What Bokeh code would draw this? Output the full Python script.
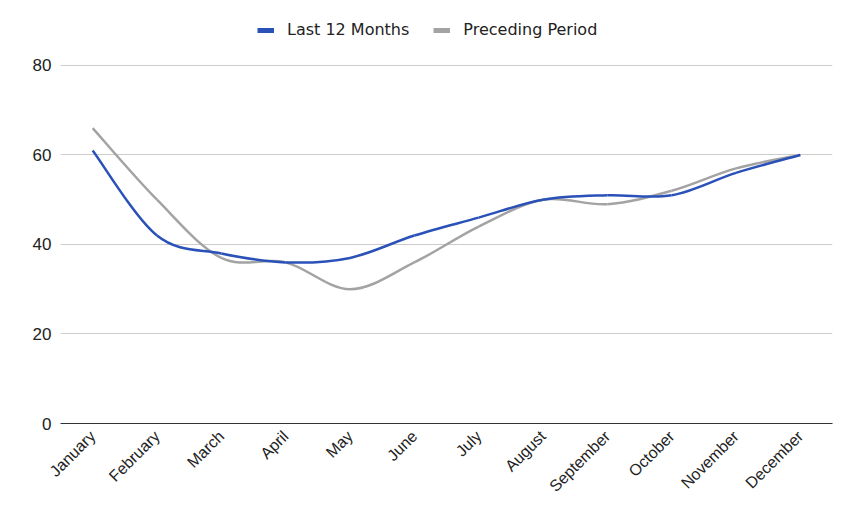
import math

from bokeh.embed import file_html
from bokeh.models import FixedTicker, Legend, LegendItem, Range1d
from bokeh.plotting import figure
from bokeh.resources import INLINE

months = ["January", "February", "March", "April", "May", "June", "July",
          "August", "September", "October", "November", "December"]
last_12 = [61, 42, 38, 36, 37, 42, 46, 50, 51, 51, 56, 60]
preceding = [66, 50, 37, 36, 30, 36, 44, 50, 49, 52, 57, 60]
y_ticks = [0, 20, 40, 60, 80]

BLUE = "#2a51b8"
GRAY = "#a3a3a3"


def smooth(ys, t=1 / 6):
    # cubic bezier segments through the points (catmull-rom style control points)
    n = len(ys)
    xs = list(range(n))
    seg = dict(x0=[], y0=[], x1=[], y1=[], cx0=[], cy0=[], cx1=[], cy1=[])
    for i in range(n - 1):
        a = max(i - 1, 0)
        b = min(i + 2, n - 1)
        seg["x0"].append(xs[i])
        seg["y0"].append(ys[i])
        seg["x1"].append(xs[i + 1])
        seg["y1"].append(ys[i + 1])
        seg["cx0"].append(xs[i] + (xs[i + 1] - xs[a]) * t)
        seg["cy0"].append(ys[i] + (ys[i + 1] - ys[a]) * t)
        seg["cx1"].append(xs[i + 1] - (xs[b] - xs[i]) * t)
        seg["cy1"].append(ys[i + 1] - (ys[b] - ys[i]) * t)
    return seg


# the frame reaches up to the legend row; the top of the axis scale stays at 80
p = figure(width=843, height=513, output_backend="svg", toolbar_location=None,
           x_range=Range1d(-0.5, 11.5), y_range=Range1d(0, 93.4),
           min_border_left=60, min_border_right=11, min_border_top=5,
           min_border_bottom=90)
p.outline_line_color = None

p.bezier(line_color=GRAY, line_width=2.5, **smooth(preceding))
p.bezier(line_color=BLUE, line_width=2.5, **smooth(last_12))

# legend swatches (single point lines: nothing drawn in the plot itself)
sw_blue = p.line(x=[0], y=[last_12[0]], line_color=BLUE, line_width=5)
sw_gray = p.line(x=[0], y=[preceding[0]], line_color=GRAY, line_width=5)
legend = Legend(items=[LegendItem(label="Last 12 Months", renderers=[sw_blue]),
                       LegendItem(label="Preceding Period", renderers=[sw_gray])],
                orientation="horizontal", location=(197, 384),
                glyph_width=17, glyph_height=16, label_standoff=13, spacing=24,
                label_text_font="DejaVu Sans", label_text_font_size="16px",
                label_text_color="#222222", background_fill_alpha=0,
                border_line_color=None, padding=0, margin=0)
p.add_layout(legend)

p.xaxis.ticker = FixedTicker(ticks=list(range(len(months))))
p.xaxis.major_label_overrides = {i: m for i, m in enumerate(months)}
p.xaxis.major_label_orientation = math.pi / 4
p.xaxis.major_label_text_font = "Liberation Sans"
p.xaxis.major_label_text_font_size = "16px"
p.xaxis.major_label_text_color = "#222222"
p.xaxis.axis_line_color = "#333333"
p.xaxis.major_tick_line_color = None
p.xaxis.minor_tick_line_color = None
p.xaxis.major_tick_out = 0
p.xaxis.major_label_standoff = 10

p.yaxis.ticker = FixedTicker(ticks=y_ticks)
p.yaxis.major_label_text_font = "Liberation Sans"
p.yaxis.major_label_text_font_size = "17px"
p.yaxis.major_label_text_color = "#222222"
p.yaxis.axis_line_color = None
p.yaxis.major_tick_line_color = None
p.yaxis.minor_tick_line_color = None
p.yaxis.major_tick_out = 0
p.yaxis.major_label_standoff = 9

p.xgrid.grid_line_color = None
p.ygrid.grid_line_color = "#cccccc"

open("out.html", "w").write(file_html(p, INLINE))
